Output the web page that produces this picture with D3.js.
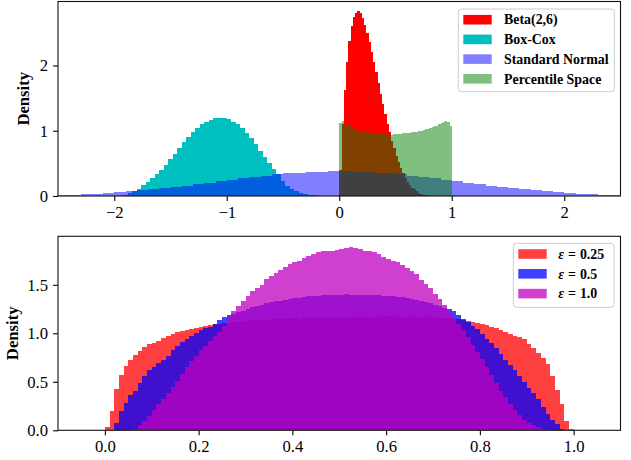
<!DOCTYPE html>
<html><head><meta charset="utf-8">
<script src="https://cdn.jsdelivr.net/npm/d3@7"></script>
<style>body{margin:0;background:#fff} svg{display:block} text{font-family:'Liberation Serif','Times New Roman',serif}</style>
</head><body><svg id="c" width="631" height="460"></svg>
<script>
// ---------- DATA (top panel) ----------
const topLegendLabels = ["Beta(2,6)", "Box-Cox", "Standard Normal", "Percentile Space"];
const topXTicks = [-2, -1, 0, 1, 2];
const topYTicks = [0, 1, 2];

const betaStart = 0, betaWidth = 0.02;
const betaValues = [0.40,1.10,1.62,2.05,2.38,2.60,2.74,2.80,2.83,2.80,2.72,2.62,2.50,2.36,2.20,2.05,1.90,1.73,1.57,1.41,
  1.26,1.11,0.98,0.85,0.73,0.62,0.52,0.43,0.35,0.28,0.22,0.17,0.13,0.10,0.07,0.05,0.035,0.02,0.013,0.008,0.005];

const boxcoxStart = -1.96, boxcoxWidth = 0.04;
const boxcoxValues = [0.005,0.015,0.04,0.07,0.11,0.17,0.22,0.27,0.34,0.40,0.47,0.56,0.65,0.73,0.82,0.91,0.98,1.04,1.10,1.14,
  1.17,1.19,1.20,1.20,1.18,1.14,1.10,1.04,0.97,0.89,0.80,0.69,0.60,0.51,0.42,0.34,0.23,0.16,0.11,0.07,0.045,0.03,0.015,0.008];

const normalStart = -2.5, normalWidth = 0.1;
const normalValues = [0.017,0.022,0.03,0.038,0.048,0.058,0.07,0.085,0.10,0.12,0.14,0.16,0.18,0.205,0.225,0.25,0.27,0.29,0.31,0.33,
  0.345,0.36,0.37,0.375,0.38,0.38,0.375,0.37,0.36,0.345,0.33,0.31,0.29,0.27,0.25,0.23,0.205,0.18,0.16,0.14,
  0.12,0.10,0.085,0.07,0.058,0.048,0.038,0.03,0.022,0.017];

const pctStart = 0, pctWidth = 0.02;
const pctValues = [1.12,1.15,1.12,1.09,1.07,1.05,1.03,1.02,1.00,0.99,0.985,0.98,0.975,0.97,0.965,0.96,0.96,0.955,0.95,0.95,
  0.945,0.94,0.935,0.94,0.945,0.945,0.95,0.955,0.96,0.965,0.97,0.97,0.975,0.98,0.985,0.99,1.00,1.01,1.02,1.03,
  1.04,1.05,1.07,1.08,1.10,1.12,1.13,1.15,1.14,1.08];

// ---------- DATA (bottom panel) ----------
const botLegendEps = ["0.25", "0.5", "1.0"];
const botXTicks = [0, 0.2, 0.4, 0.6, 0.8, 1.0];
const botYTicks = [0, 0.5, 1.0, 1.5];
const epsStart = 0, epsWidth = 0.01;
const eps025Values = [0.03,0.20,0.43,0.57,0.66,0.72,0.78,0.82,0.86,0.89,
  0.90,0.92,0.95,0.97,0.99,1.01,1.02,1.03,1.04,1.05,
  1.06,1.08,1.09,1.10,1.10,1.11,1.11,1.12,1.12,1.13,
  1.13,1.14,1.14,1.15,1.14,1.15,1.15,1.16,1.15,1.16,
  1.16,1.15,1.17,1.16,1.16,1.17,1.16,1.17,1.16,1.17,
  1.17,1.16,1.17,1.17,1.18,1.17,1.16,1.17,1.18,1.17,
  1.18,1.17,1.18,1.17,1.17,1.18,1.17,1.17,1.18,1.17,
  1.17,1.16,1.16,1.16,1.15,1.15,1.14,1.13,1.12,1.11,
  1.10,1.09,1.07,1.05,1.03,1.01,0.99,0.97,0.96,0.94,
  0.89,0.85,0.80,0.75,0.68,0.56,0.42,0.27,0.10,0.01];
const eps05Values = [0,0.005,0.08,0.20,0.28,0.36,0.41,0.49,0.56,0.62,
  0.65,0.69,0.72,0.77,0.83,0.87,0.91,0.94,0.97,1.00,
  1.03,1.05,1.07,1.10,1.14,1.17,1.19,1.20,1.22,1.23,
  1.25,1.27,1.28,1.29,1.31,1.32,1.33,1.33,1.34,1.35,
  1.36,1.36,1.37,1.38,1.38,1.38,1.39,1.40,1.39,1.40,
  1.40,1.41,1.39,1.40,1.40,1.39,1.40,1.39,1.39,1.38,
  1.38,1.38,1.37,1.37,1.36,1.35,1.34,1.33,1.32,1.31,
  1.29,1.28,1.26,1.25,1.23,1.19,1.15,1.12,1.08,1.04,
  0.99,0.94,0.90,0.85,0.79,0.72,0.67,0.62,0.56,0.50,
  0.44,0.38,0.32,0.24,0.17,0.11,0.07,0.01,0,0];
const eps10Values = [0,0,0,0,0,0,0.01,0.05,0.10,0.15,
  0.21,0.27,0.32,0.38,0.45,0.51,0.58,0.65,0.71,0.77,
  0.83,0.87,0.92,0.97,1.01,1.08,1.17,1.23,1.28,1.33,
  1.38,1.44,1.47,1.50,1.56,1.59,1.62,1.65,1.68,1.71,
  1.73,1.75,1.78,1.80,1.82,1.84,1.85,1.85,1.85,1.86,
  1.87,1.88,1.89,1.88,1.87,1.85,1.85,1.84,1.82,1.79,
  1.77,1.75,1.73,1.70,1.67,1.64,1.61,1.55,1.51,1.47,
  1.41,1.35,1.29,1.23,1.17,1.10,1.03,0.96,0.88,0.81,
  0.73,0.65,0.57,0.49,0.41,0.34,0.27,0.21,0.16,0.11,
  0.08,0.055,0.03,0.015,0,0,0,0,0,0];

// ---------- DRAWING ----------
const FONT = "'Liberation Serif','Times New Roman',serif";
const svg = d3.select("#c");

const L = 58, R = 620.5;
const topX = d3.scaleLinear().domain([-2.5, 2.5]).range([L, R]);
const topY = d3.scaleLinear().domain([0, 2.98]).range([196, 1.5]);
const botX = d3.scaleLinear().domain([-0.1, 1.1]).range([L, R]);
const botY = d3.scaleLinear().domain([0, 2.0]).range([430.3, 236.3]);

function clip(id, x, y) {
  svg.append("clipPath").attr("id", id).append("rect")
    .attr("x", x.range()[0]).attr("y", y.range()[1])
    .attr("width", x.range()[1] - x.range()[0]).attr("height", y.range()[0] - y.range()[1]);
}
clip("cpTop", topX, topY);
clip("cpBot", botX, botY);

function bars(g, x, y, start, width, values, color, opacity) {
  g.append("g").attr("shape-rendering", "crispEdges")
    .selectAll("rect").data(values).join("rect")
    .attr("x", (d, i) => x(start + i * width))
    .attr("width", (d, i) => x(start + (i + 1) * width) - x(start + i * width))
    .attr("y", d => y(d))
    .attr("height", d => y(0) - y(d))
    .attr("fill", color).attr("fill-opacity", opacity);
}

function panel(x, y, clipId, series, xTicks, yTicks, xFmt, yFmt, ylabelX) {
  const g = svg.append("g");
  const plot = g.append("g").attr("clip-path", `url(#${clipId})`);
  series.forEach(s => bars(plot, x, y, s.start, s.width, s.values, s.color, s.opacity));
  const ax = g.append("g").attr("transform", `translate(0,${y.range()[0]})`)
    .call(d3.axisBottom(x).tickValues(xTicks).tickFormat(xFmt).tickSize(4.9).tickSizeOuter(0).tickPadding(5.3));
  const ay = g.append("g").attr("transform", `translate(${x.range()[0]},0)`)
    .call(d3.axisLeft(y).tickValues(yTicks).tickFormat(yFmt).tickSize(4.9).tickSizeOuter(0).tickPadding(5.1));
  [ax, ay].forEach(a => {
    a.attr("font-family", FONT).attr("font-size", 16.67);
    a.select(".domain").remove();
    a.selectAll(".tick line").attr("stroke", "#000").attr("stroke-width", 1.1);
    a.selectAll(".tick text").style("font-family", FONT).style("font-size", "16.67px").attr("fill", "#000");
  });
  g.append("rect").attr("x", x.range()[0]).attr("y", y.range()[1])
    .attr("width", x.range()[1] - x.range()[0]).attr("height", y.range()[0] - y.range()[1])
    .attr("fill", "none").attr("stroke", "#111").attr("stroke-width", 1.1);
  const cy = (y.range()[0] + y.range()[1]) / 2;
  g.append("text").attr("transform", `translate(${ylabelX},${cy}) rotate(-90)`)
    .attr("text-anchor", "middle").style("font-family", FONT).attr("font-weight", "bold")
    .style("font-size", "16.67px").text("Density");
  return g;
}

panel(topX, topY, "cpTop", [
  {start: betaStart, width: betaWidth, values: betaValues, color: "#ff0000", opacity: 1},
  {start: boxcoxStart, width: boxcoxWidth, values: boxcoxValues, color: "#00bfbf", opacity: 1},
  {start: normalStart, width: normalWidth, values: normalValues, color: "#0000ff", opacity: 0.5},
  {start: pctStart, width: pctWidth, values: pctValues, color: "#008000", opacity: 0.5}
], topXTicks, topYTicks, d3.format("d"), d3.format("d"), 29.3);

panel(botX, botY, "cpBot", [
  {start: epsStart, width: epsWidth, values: eps025Values, color: "#ff0000", opacity: 0.75},
  {start: epsStart, width: epsWidth, values: eps05Values, color: "#0000ff", opacity: 0.75},
  {start: epsStart, width: epsWidth, values: eps10Values, color: "#bf00bf", opacity: 0.75}
], botXTicks, botYTicks, d3.format(".1f"), d3.format(".1f"), 17.7);

// ---------- LEGENDS ----------
function legendBox(x0, y0, x1, y1) {
  svg.append("rect").attr("x", x0).attr("y", y0).attr("width", x1 - x0).attr("height", y1 - y0)
    .attr("rx", 3).attr("fill", "#fff").attr("fill-opacity", 0.8)
    .attr("stroke", "#cccccc").attr("stroke-width", 1);
}
legendBox(458.3, 9, 614.3, 91.7);
const topColors = [["#ff0000", 1], ["#00bfbf", 1], ["#0000ff", 0.5], ["#008000", 0.5]];
const topRowY = [19.7, 39.4, 59.1, 78.8];
topLegendLabels.forEach((lab, i) => {
  svg.append("rect").attr("x", 463.3).attr("y", topRowY[i] - 4.8).attr("width", 28.4).attr("height", 9.6)
    .attr("fill", topColors[i][0]).attr("fill-opacity", topColors[i][1]);
  svg.append("text").attr("x", 504).attr("y", topRowY[i] + 4.7)
    .style("font-family", FONT).attr("font-weight", "bold").style("font-size", "13.9px").text(lab);
});
legendBox(513.3, 243.3, 614, 307.3);
const botColors = ["#ff0000", "#0000ff", "#bf00bf"];
const botRowY = [254, 273.8, 293.6];
botLegendEps.forEach((v, i) => {
  svg.append("rect").attr("x", 518.3).attr("y", botRowY[i] - 4.8).attr("width", 28.4).attr("height", 9.6)
    .attr("fill", botColors[i]).attr("fill-opacity", 0.75);
  const t = svg.append("text").attr("x", 558.3).attr("y", botRowY[i] + 4.7)
    .style("font-family", FONT).style("font-size", "13.9px");
  t.append("tspan").attr("font-style", "italic").attr("font-weight", "bold").text("ε");
  t.append("tspan").attr("font-weight", "bold").attr("dx", 4).text("=");
  t.append("tspan").attr("font-weight", "bold").attr("dx", 4).text(v);
});
</script></body></html>
